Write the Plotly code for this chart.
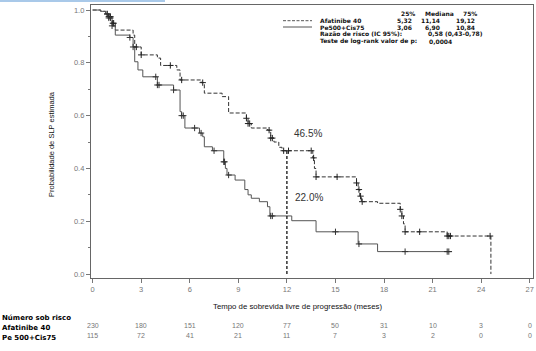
import plotly.graph_objects as go

# ---------------- data ----------------
afa_t = [0, 0.5, 0.8, 1.0, 1.2, 1.4, 2.5, 2.6, 3.0, 4.0, 4.2, 5.2, 5.4, 6.7, 6.9, 8.0, 8.4,
         9.5, 9.6, 9.8, 10.8, 11.0, 11.2, 11.5, 11.7, 13.6, 13.7, 13.8, 16.3, 16.4, 16.5,
         16.6, 17.6, 19.0, 19.1, 19.2, 19.3, 21.9, 24.6]
afa_s = [1.0, 0.995, 0.985, 0.975, 0.95, 0.924, 0.905, 0.86, 0.83, 0.818, 0.79, 0.773, 0.735,
         0.725, 0.685, 0.672, 0.61, 0.59, 0.57, 0.553, 0.545, 0.515, 0.5, 0.48, 0.467, 0.44,
         0.40, 0.368, 0.345, 0.32, 0.295, 0.274, 0.268, 0.245, 0.22, 0.19, 0.16, 0.144, 0.0]
afa_end = 24.6

pe_t = [0, 0.5, 0.8, 1.0, 1.2, 1.4, 2.3, 2.5, 2.6, 2.8, 3.1, 4.0, 5.0, 5.4, 5.5, 5.7, 6.6,
        6.8, 6.9, 7.4, 8.1, 8.2, 8.3, 8.8, 9.4, 9.6, 9.8, 10.3, 10.8, 10.95, 12.3, 13.8,
        16.4, 17.6]
pe_s = [1.0, 0.995, 0.985, 0.97, 0.94, 0.905, 0.896, 0.86, 0.804, 0.773, 0.747, 0.716, 0.697,
        0.615, 0.60, 0.553, 0.534, 0.52, 0.482, 0.467, 0.425, 0.40, 0.375, 0.356, 0.32, 0.30,
        0.287, 0.274, 0.255, 0.22, 0.202, 0.16, 0.114, 0.085]
pe_end = 22.2

afa_cens = [0.9, 1.0, 1.1, 1.25, 1.3, 2.7, 3.0, 4.8, 5.5, 6.8, 9.5, 9.6, 9.7, 10.9, 11.0,
            11.1, 11.8, 12.1, 13.5, 13.65, 13.8, 15.1, 16.3, 16.45, 16.55, 16.65, 19.0,
            19.1, 19.3, 20.2, 21.9, 22.0, 22.1, 24.55]
pe_cens = [0.9, 1.0, 1.1, 1.2, 2.3, 2.5, 3.9, 4.0, 4.1, 5.0, 5.5, 5.6, 6.3, 6.7, 7.5, 8.1,
           8.15, 8.4, 11.0, 11.1, 15.0, 16.45, 19.3, 21.9, 22.0]

median_t = 12
lbl_afa = "46.5%"
lbl_pe = "22.0%"

x_ticks = [0, 3, 6, 9, 12, 15, 18, 21, 24, 27]
risk_afa = [230, 180, 151, 120, 77, 50, 31, 10, 3, 0]
risk_pe = [115, 72, 41, 21, 11, 7, 3, 2, 0, 0]

leg_head = ["25%", "Mediana", "75%"]
afa_q = ["5,32", "11,14", "19,12"]
pe_q = ["3,06", "6,90", "10,84"]
hr_text = "0,58 (0,43-0,78)"
p_text = "0,0004"

# ---------------- helpers ----------------
L, R, T, B = 91, 533, 5, 278
W, H = R - L, B - T


def px(x):
    return (x - L) / W


def py(y):
    return (B - y) / H


def surv_at(ts, ss, t):
    v = ss[0]
    for ti, si in zip(ts, ss):
        if ti <= t:
            v = si
    return v


fig = go.Figure()

fig.add_trace(go.Scatter(x=afa_t + [afa_end], y=afa_s + [afa_s[-1]], mode="lines",
                         line=dict(shape="hv", color="#333", width=1, dash="4px,2px"),
                         showlegend=False, hoverinfo="skip"))
fig.add_trace(go.Scatter(x=pe_t + [pe_end], y=pe_s + [pe_s[-1]], mode="lines",
                         line=dict(shape="hv", color="#555", width=1),
                         showlegend=False, hoverinfo="skip"))
fig.add_trace(go.Scatter(x=afa_cens, y=[surv_at(afa_t, afa_s, t) for t in afa_cens],
                         mode="markers",
                         marker=dict(symbol="cross-thin", size=4.5, line=dict(width=1, color="#222")),
                         showlegend=False, hoverinfo="skip"))
fig.add_trace(go.Scatter(x=pe_cens, y=[surv_at(pe_t, pe_s, t) for t in pe_cens],
                         mode="markers",
                         marker=dict(symbol="cross-thin", size=4.5, line=dict(width=1, color="#333")),
                         showlegend=False, hoverinfo="skip"))

# median vertical line
fig.add_trace(go.Scatter(x=[median_t, median_t], y=[0, surv_at(afa_t, afa_s, median_t)],
                         mode="lines", line=dict(color="#111", width=1.3, dash="3px,2px"),
                         showlegend=False, hoverinfo="skip"))

ann = []
ann.append(dict(x=px(292), y=py(133), xref="paper", yref="paper", text=lbl_afa, showarrow=False,
                xanchor="left", yanchor="middle", font=dict(size=10, color="#333", family="Liberation Sans")))
ann.append(dict(x=px(293), y=py(198), xref="paper", yref="paper", text=lbl_pe, showarrow=False,
                xanchor="left", yanchor="middle", font=dict(size=10, color="#333", family="Liberation Sans")))

# legend block
bfont = dict(family="DejaVu Sans", size=6, color="#111")
for txt, cx in zip(leg_head, [408, 439, 470]):
    ann.append(dict(x=px(cx), y=py(14), xref="paper", yref="paper", text="<b>%s</b>" % txt,
                    showarrow=False, xanchor="center", yanchor="middle", font=bfont))
for row, vals, yy in [("Afatinibe 40", afa_q, 20.7), ("Pe500+Cis75", pe_q, 27)]:
    ann.append(dict(x=px(318), y=py(yy), xref="paper", yref="paper", text="<b>%s</b>" % row,
                    showarrow=False, xanchor="left", yanchor="middle", font=bfont))
    for v, rx in zip(vals, [414, 442, 477]):
        ann.append(dict(x=px(rx), y=py(yy), xref="paper", yref="paper", text="<b>%s</b>" % v,
                        showarrow=False, xanchor="right", yanchor="middle", font=bfont))
ann.append(dict(x=px(318), y=py(34), xref="paper", yref="paper", text="<b>Razão de risco (IC 95%):</b>",
                showarrow=False, xanchor="left", yanchor="middle", font=bfont))
ann.append(dict(x=px(426), y=py(34), xref="paper", yref="paper", text="<b>%s</b>" % hr_text,
                showarrow=False, xanchor="left", yanchor="middle", font=bfont))
ann.append(dict(x=px(318), y=py(41.5), xref="paper", yref="paper", text="<b>Teste de log-rank valor de p:</b>",
                showarrow=False, xanchor="left", yanchor="middle", font=bfont))
ann.append(dict(x=px(427), y=py(41.5), xref="paper", yref="paper", text="<b>%s</b>" % p_text,
                showarrow=False, xanchor="left", yanchor="middle", font=bfont))

# axis titles
ann.append(dict(x=px(297), y=py(306), xref="paper", yref="paper",
                text="Tempo de sobrevida livre de progressão (meses)", showarrow=False,
                xanchor="center", yanchor="middle", font=dict(size=7.8, color="#111", family="Liberation Sans")))
ann.append(dict(x=px(51), y=py(144), xref="paper", yref="paper", textangle=-90,
                text="Probabilidade de SLP estimada", showarrow=False,
                xanchor="center", yanchor="middle", font=dict(size=7.5, color="#111", family="Liberation Sans")))

# risk table
rfont = dict(family="DejaVu Sans", size=7, color="#000")
for txt, yy in [("Número sob risco", 317.5), ("Afatinibe 40", 327.5), ("Pe 500+Cis75", 337.5)]:
    ann.append(dict(x=px(0), y=py(yy), xref="paper", yref="paper", text="<b>%s</b>" % txt,
                    showarrow=False, xanchor="left", yanchor="middle", font=rfont))
nfont = dict(family="Liberation Sans", size=7, color="#777")
for xv, a, p in zip(x_ticks, risk_afa, risk_pe):
    ann.append(dict(x=xv, y=py(325.5), xref="x", yref="paper", text=str(a), showarrow=False,
                    xanchor="center", yanchor="middle", font=nfont))
    ann.append(dict(x=xv, y=py(335), xref="x", yref="paper", text=str(p), showarrow=False,
                    xanchor="center", yanchor="middle", font=nfont))

shapes = [
    dict(type="line", xref="paper", yref="paper", x0=px(283), x1=px(312), y0=py(20.7), y1=py(20.7),
         line=dict(color="#555", width=1, dash="3px,1.5px")),
    dict(type="line", xref="paper", yref="paper", x0=px(283), x1=px(312), y0=py(27), y1=py(27),
         line=dict(color="#555", width=1)),
    dict(type="rect", xref="paper", yref="paper", x0=px(0), x1=px(165), y0=py(0), y1=py(2),
         fillcolor="#a9c9e9", line=dict(width=0), layer="above"),
]

fig.update_layout(
    width=536, height=351, autosize=False,
    margin=dict(l=L, r=536 - R, t=T, b=351 - B, pad=0),
    paper_bgcolor="white", plot_bgcolor="white",
    annotations=ann, shapes=shapes, showlegend=False,
    font=dict(family="Liberation Sans"),
    xaxis=dict(range=[-0.1, 27.2], tickvals=x_ticks, ticks="outside", ticklen=4, tickcolor="#777",
               showline=True, linecolor="#666", linewidth=1.3, mirror=True, showgrid=False,
               zeroline=False, tickfont=dict(size=7.5, color="#777")),
    yaxis=dict(range=[-0.015, 1.019], tickvals=[0, 0.2, 0.4, 0.6, 0.8, 1.0],
               ticktext=["0.0", "0.2", "0.4", "0.6", "0.8", "1.0"],
               ticks="outside", ticklen=4, tickcolor="#777",
               minor=dict(tickvals=[0.1, 0.3, 0.5, 0.7, 0.9], ticks="outside", ticklen=2, tickcolor="#777"),
               showline=True, linecolor="#666", linewidth=1.3, mirror=True, showgrid=False,
               zeroline=False, tickfont=dict(size=7.5, color="#777")),
)

fig.write_html("out.html")
